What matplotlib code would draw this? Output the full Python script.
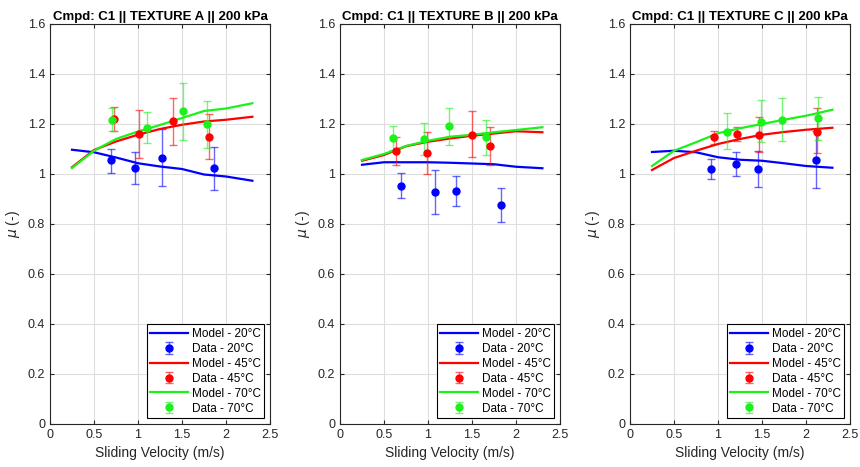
import matplotlib.pyplot as plt
import matplotlib
import numpy as np

matplotlib.rcParams['font.family'] = ['Liberation Sans', 'DejaVu Sans']
matplotlib.rcParams['font.size'] = 9

titles = ["Cmpd: C1 || TEXTURE A || 200 kPa",
          "Cmpd: C1 || TEXTURE B || 200 kPa",
          "Cmpd: C1 || TEXTURE C || 200 kPa"]
temps = ["20", "45", "70"]

# model curves, one per panel and temperature
model_v = [0.25, 0.5, 0.75, 1.0, 1.25, 1.5, 1.75, 2.0, 2.3]
model_A = {
    "20": [1.097, 1.087, 1.066, 1.043, 1.030, 1.020, 0.998, 0.990, 0.973],
    "45": [1.027, 1.096, 1.130, 1.157, 1.180, 1.197, 1.210, 1.217, 1.229],
    "70": [1.024, 1.093, 1.140, 1.170, 1.196, 1.224, 1.252, 1.262, 1.283],
}
model_B = {
    "20": [1.037, 1.047, 1.047, 1.047, 1.045, 1.042, 1.039, 1.029, 1.023],
    "45": [1.053, 1.076, 1.111, 1.129, 1.142, 1.153, 1.162, 1.171, 1.167],
    "70": [1.056, 1.080, 1.112, 1.133, 1.149, 1.157, 1.167, 1.176, 1.187],
}
model_C = {
    "20": [1.088, 1.093, 1.087, 1.067, 1.057, 1.053, 1.043, 1.032, 1.025],
    "45": [1.016, 1.064, 1.093, 1.120, 1.140, 1.157, 1.168, 1.177, 1.185],
    "70": [1.032, 1.093, 1.127, 1.163, 1.183, 1.200, 1.217, 1.233, 1.257],
}

# measured data: velocity, mean, lower and upper error bar ends
data_A = {
    "20": ([0.69, 0.97, 1.27, 1.86], [1.056, 1.024, 1.065, 1.023],
           [1.004, 0.960, 0.951, 0.937], [1.100, 1.088, 1.180, 1.107]),
    "45": ([0.73, 1.01, 1.40, 1.81], [1.220, 1.161, 1.211, 1.149],
           [1.171, 1.064, 1.117, 1.060], [1.267, 1.256, 1.303, 1.240]),
    "70": ([0.70, 1.10, 1.51, 1.78], [1.216, 1.185, 1.251, 1.199],
           [1.173, 1.124, 1.135, 1.103], [1.263, 1.247, 1.364, 1.293]),
}
data_B = {
    "20": ([0.69, 1.08, 1.32, 1.83], [0.952, 0.927, 0.931, 0.877],
           [0.903, 0.839, 0.872, 0.809], [1.003, 1.016, 0.991, 0.944]),
    "45": ([0.64, 0.99, 1.50, 1.71], [1.091, 1.083, 1.157, 1.111],
           [1.037, 1.000, 1.067, 1.036], [1.147, 1.169, 1.251, 1.187]),
    "70": ([0.60, 0.96, 1.24, 1.66], [1.144, 1.140, 1.191, 1.149],
           [1.097, 1.077, 1.116, 1.077], [1.192, 1.204, 1.263, 1.215]),
}
data_C = {
    "20": ([0.92, 1.20, 1.46, 2.11], [1.020, 1.041, 1.021, 1.056],
           [0.980, 0.993, 0.949, 0.944], [1.060, 1.087, 1.091, 1.171]),
    "45": ([0.96, 1.22, 1.47, 2.13], [1.147, 1.160, 1.157, 1.169],
           [1.120, 1.133, 1.087, 1.083], [1.173, 1.187, 1.227, 1.264]),
    "70": ([1.10, 1.49, 1.73, 2.14], [1.169, 1.209, 1.217, 1.224],
           [1.101, 1.129, 1.133, 1.136], [1.243, 1.296, 1.304, 1.309]),
}

models = [model_A, model_B, model_C]
datas = [data_A, data_B, data_C]
colors = {"20": (0, 0, 1), "45": (1, 0, 0), "70": (0.1, 0.95, 0.1)}
dark = (0.15, 0.15, 0.15)

fig = plt.figure(figsize=(8.6, 4.67), dpi=100)
lefts = [50, 340, 630]

for k in range(3):
    ax = fig.add_axes([lefts[k] / 860, 43 / 467, 220 / 860, 400 / 467])
    handles = []
    for T in temps:
        c = colors[T]
        ln, = ax.plot(model_v, models[k][T], color=c, lw=1.6, label="Model - " + T + "°C")
        v, m, lo, hi = datas[k][T]
        m = np.array(m)
        err = [m - np.array(lo), np.array(hi) - m]
        eb = ax.errorbar(v, m, yerr=err, fmt='o', color=c, ms=5, elinewidth=1,
                         capsize=3, capthick=1, ecolor=c + (0.6,),
                         label="Data - " + T + "°C")
        handles += [ln, eb]
    ax.set_xlim(0, 2.5)
    ax.set_ylim(0, 1.6)
    ax.set_xticks(np.arange(0, 2.51, 0.5))
    ax.set_xticklabels(["0", "0.5", "1", "1.5", "2", "2.5"])
    ax.set_yticks(np.arange(0, 1.61, 0.2))
    ax.set_yticklabels(["0", "0.2", "0.4", "0.6", "0.8", "1", "1.2", "1.4", "1.6"])
    ax.grid(True, color=(0.87, 0.87, 0.87), lw=0.8)
    ax.set_axisbelow(True)
    ax.tick_params(direction='in', top=True, right=True, length=3,
                   colors=dark, labelsize=9)
    for s in ax.spines.values():
        s.set_color(dark)
        s.set_linewidth(0.8)
    ax.set_title(titles[k], fontweight='bold', fontsize=9.5, pad=3)
    ax.set_xlabel("Sliding Velocity (m/s)", fontsize=10, color=dark)
    ax.set_ylabel(r"$\mu$ (-)", fontsize=10, color=dark)
    leg = ax.legend(handles, [h.get_label() for h in handles],
                    loc='lower right', fontsize=8.5, handlelength=3.2,
                    handletextpad=0.3, borderpad=0.3, labelspacing=0.25,
                    fancybox=False, edgecolor='black', framealpha=1,
                    borderaxespad=0.5)
    leg.get_frame().set_linewidth(0.8)

plt.savefig("out.png", dpi=100)
